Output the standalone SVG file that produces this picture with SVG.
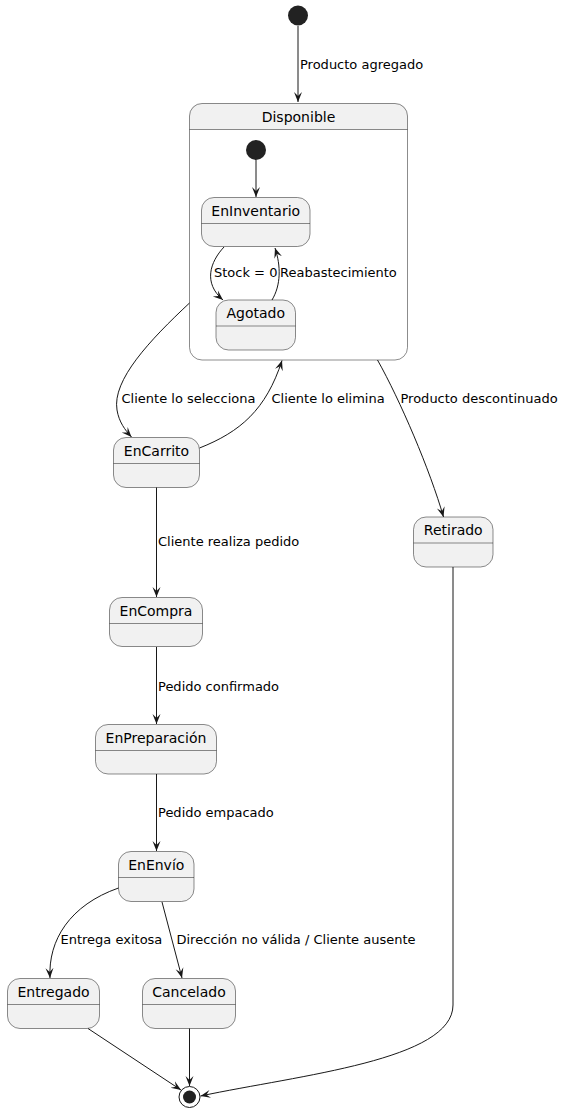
<svg xmlns="http://www.w3.org/2000/svg" width="564" height="1116" viewBox="0 0 564 1116">
<defs>
<style>
.st{fill:#F1F1F1;stroke:#181818;stroke-width:0.5}
.sep{stroke:#181818;stroke-width:0.5}
.nm{font-family:"DejaVu Sans",sans-serif;font-size:14px;fill:#000;text-anchor:middle}
.lb{font-family:"DejaVu Sans",sans-serif;font-size:13px;fill:#000}
.cn path{fill:none;stroke:#181818;stroke-width:1;marker-end:url(#ah)}
.dot{fill:#222222}
</style>
<marker id="ah" viewBox="0 0 10 10" refX="10" refY="5" markerWidth="10" markerHeight="10" markerUnits="userSpaceOnUse" orient="auto">
<path d="M0,1 L10,5 L0,9 L4,5 Z" fill="#181818"/>
</marker>
</defs>
<rect width="564" height="1116" fill="#FFFFFF"/>

<g id="start"><circle class="dot" cx="298" cy="15.5" r="10"/></g>

<g id="Disponible">
<path d="M189.5,129.5 L189.5,116 Q189.5,103.5 202,103.5 L395,103.5 Q407.5,103.5 407.5,116 L407.5,129.5 Z" fill="#F1F1F1"/>
<rect x="189.5" y="103.5" width="218" height="256.5" rx="12.5" fill="none" stroke="#181818" stroke-width="0.5"/>
<line class="sep" x1="189.5" y1="129.5" x2="407.5" y2="129.5"/>
<text class="nm" x="298.5" y="121.5">Disponible</text>
</g>
<g id="start_inner"><circle class="dot" cx="256" cy="150" r="10"/></g>
<g id="EnInventario">
<rect class="st" x="201.5" y="197.5" width="108.5" height="49" rx="12.5"/>
<line class="sep" x1="201.5" y1="223.5" x2="310" y2="223.5"/>
<text class="nm" x="255.75" y="215.5">EnInventario</text>
</g>
<g id="Agotado">
<rect class="st" x="216" y="300" width="79.5" height="50" rx="12.5"/>
<line class="sep" x1="216" y1="326" x2="295.5" y2="326"/>
<text class="nm" x="255.75" y="318">Agotado</text>
</g>
<g id="EnCarrito">
<rect class="st" x="113.5" y="437.5" width="86" height="50" rx="12.5"/>
<line class="sep" x1="113.5" y1="463.5" x2="199.5" y2="463.5"/>
<text class="nm" x="156.5" y="455.5">EnCarrito</text>
</g>
<g id="Retirado">
<rect class="st" x="413.5" y="517" width="79.5" height="50" rx="12.5"/>
<line class="sep" x1="413.5" y1="543" x2="493" y2="543"/>
<text class="nm" x="453.25" y="535">Retirado</text>
</g>
<g id="EnCompra">
<rect class="st" x="109.5" y="597.5" width="93" height="49" rx="12.5"/>
<line class="sep" x1="109.5" y1="623.5" x2="202.5" y2="623.5"/>
<text class="nm" x="156" y="615.5">EnCompra</text>
</g>
<g id="EnPreparacion">
<rect class="st" x="95.5" y="724.5" width="121" height="49.5" rx="12.5"/>
<line class="sep" x1="95.5" y1="750.5" x2="216.5" y2="750.5"/>
<text class="nm" x="156" y="742.5">EnPreparación</text>
</g>
<g id="EnEnvio">
<rect class="st" x="118.5" y="851.5" width="75.5" height="50" rx="12.5"/>
<line class="sep" x1="118.5" y1="877.5" x2="194" y2="877.5"/>
<text class="nm" x="156.25" y="869.5">EnEnvío</text>
</g>
<g id="Entregado">
<rect class="st" x="7.5" y="978.5" width="92" height="50" rx="12.5"/>
<line class="sep" x1="7.5" y1="1004.5" x2="99.5" y2="1004.5"/>
<text class="nm" x="53.5" y="996.5">Entregado</text>
</g>
<g id="Cancelado">
<rect class="st" x="142.5" y="978.5" width="93" height="50" rx="12.5"/>
<line class="sep" x1="142.5" y1="1004.5" x2="235.5" y2="1004.5"/>
<text class="nm" x="189" y="996.5">Cancelado</text>
</g>
<g id="end">
<circle cx="189.5" cy="1097" r="10.5" fill="#FFFFFF" stroke="#181818" stroke-width="1"/>
<circle class="dot" cx="189.5" cy="1097" r="6.5"/>
</g>

<g id="connectors" class="cn">
<path d="M298,26 L298,102"/>
<path d="M256,160 L256,197"/>
<path d="M224,247 C210,262 203,283 223,300"/>
<path d="M272,300 C281,285 281,266 275,248"/>
<path d="M189.5,303 C150,340 112,380 117,410 C119,422 125,430 131.5,437"/>
<path d="M199.5,448 C240,432 266,410 282,360.5"/>
<path d="M377.5,360 C400,400 430,470 443.5,517"/>
<path d="M156.5,487.5 L156.5,597"/>
<path d="M156.5,647 L156.5,724"/>
<path d="M156.5,774 L156.5,851"/>
<path d="M118.5,888 C70,905 48,940 50,978"/>
<path d="M162,902 L182,978"/>
<path d="M88,1028.5 L181,1090"/>
<path d="M189.5,1028.5 L189.5,1086"/>
<path d="M453,567 L453,1005 C453,1060 300,1075 200.5,1096"/>
</g>

<g id="labels">
<text class="lb" x="300" y="68.5">Producto agregado</text>
<text class="lb" x="214" y="277">Stock = 0</text>
<text class="lb" x="280" y="277">Reabastecimiento</text>
<text class="lb" x="121.5" y="402.5">Cliente lo selecciona</text>
<text class="lb" x="271.5" y="402.5">Cliente lo elimina</text>
<text class="lb" x="400.5" y="402.5">Producto descontinuado</text>
<text class="lb" x="158" y="546">Cliente realiza pedido</text>
<text class="lb" x="158" y="690.5">Pedido confirmado</text>
<text class="lb" x="158" y="817">Pedido empacado</text>
<text class="lb" x="60.5" y="944">Entrega exitosa</text>
<text class="lb" x="176.5" y="944">Dirección no válida / Cliente ausente</text>
</g>
</svg>
